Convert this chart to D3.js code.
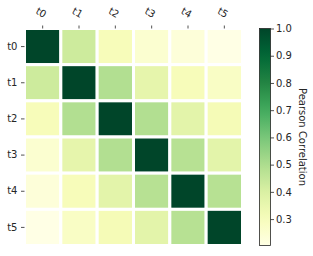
<!DOCTYPE html>
<html>
<head>
<meta charset="utf-8">
<script src="https://cdn.jsdelivr.net/npm/d3@7"></script>
<style>
  body { margin: 0; background: #fff; }
  text { font-family: "DejaVu Sans", sans-serif; font-size: 10px; fill: #262626; }
</style>
</head>
<body>
<svg id="chart" width="313" height="256"></svg>
<script>
const labels = ["t0", "t1", "t2", "t3", "t4", "t5"];
const corr = [
	[1.00, 0.43, 0.30, 0.25, 0.23, 0.203],
	[0.43, 1.00, 0.49, 0.36, 0.30, 0.275],
	[0.30, 0.49, 1.00, 0.49, 0.37, 0.31],
	[0.25, 0.36, 0.49, 1.00, 0.48, 0.37],
	[0.23, 0.30, 0.37, 0.48, 1.00, 0.48],
	[0.203, 0.275, 0.31, 0.37, 0.48, 1.00]
];
const cbarTicks = [0.3, 0.4, 0.5, 0.6, 0.7, 0.8, 0.9, 1.0];
const cbarLabel = "Pearson Correlation";

const svg = d3.select('#chart');

const mLeft = 24.5, mTop = 28.5, size = 218;
const x = d3.scaleBand().domain(labels).range([mLeft, mLeft + size]);
const y = d3.scaleBand().domain(labels).range([mTop, mTop + size - 1]);

const vmin = d3.min(corr.flat()), vmax = d3.max(corr.flat());
const scheme = d3.schemeYlGn[9];
const color = d3.scaleLinear()
	.domain(scheme.map((c, i) => vmin + (vmax - vmin) * i / (scheme.length - 1)))
	.range(scheme);

// cells
const cells = [];
corr.forEach((row, i) => row.forEach((v, j) => cells.push({ r: labels[i], c: labels[j], v: v })));
svg.append('g').selectAll('rect').data(cells).enter().append('rect')
	.attr('x', d => x(d.c))
	.attr('y', d => y(d.r))
	.attr('width', x.bandwidth())
	.attr('height', y.bandwidth())
	.attr('fill', d => color(d.v))
	.attr('stroke', '#fff')
	.attr('stroke-width', 3);

// x axis on top
const xAxis = svg.append('g')
	.attr('transform', 'translate(0,' + mTop + ')')
	.call(d3.axisTop(x).tickSize(3).tickPadding(3));
xAxis.select('.domain').remove();
xAxis.selectAll('line').attr('stroke', '#262626').attr('stroke-width', 0.8);
xAxis.selectAll('text')
	.attr('text-anchor', 'middle')
	.attr('y', 0)
	.attr('dy', '0.35em')
	.attr('transform', 'translate(-1.5,-16) rotate(30)');

// y axis
const yAxis = svg.append('g')
	.attr('transform', 'translate(' + mLeft + ',0)')
	.call(d3.axisLeft(y).tickSize(3.5).tickPadding(3.5));
yAxis.select('.domain').remove();
yAxis.selectAll('line').attr('stroke', '#262626').attr('stroke-width', 0.8);

// colorbar
const cbX = 259.5, cbW = 11, cbTop = 28.5, cbH = 217;
const cbScale = d3.scaleLinear().domain([vmin, vmax]).range([cbTop + cbH, cbTop]);

const grad = svg.append('defs').append('linearGradient')
	.attr('id', 'cbgrad').attr('x1', 0).attr('y1', 1).attr('x2', 0).attr('y2', 0);
grad.selectAll('stop').data(d3.range(0, 1.0001, 0.05)).enter().append('stop')
	.attr('offset', d => d)
	.attr('stop-color', d => color(vmin + d * (vmax - vmin)));

svg.append('rect')
	.attr('x', cbX).attr('y', cbTop)
	.attr('width', cbW).attr('height', cbH)
	.attr('fill', 'url(#cbgrad)')
	.attr('stroke', '#262626').attr('stroke-width', 0.8);

const cbAxis = svg.append('g')
	.attr('transform', 'translate(' + (cbX + cbW) + ',0)')
	.call(d3.axisRight(cbScale).tickValues(cbarTicks).tickFormat(d3.format('.1f')).tickSize(3.5).tickPadding(2));
cbAxis.select('.domain').remove();
cbAxis.selectAll('line').attr('stroke', '#262626').attr('stroke-width', 0.8);

svg.append('text')
	.attr('transform', 'translate(302,' + (cbTop + cbH / 2) + ') rotate(90)')
	.attr('text-anchor', 'middle')
	.attr('dy', '0.35em')
	.text(cbarLabel);
</script>
</body>
</html>
